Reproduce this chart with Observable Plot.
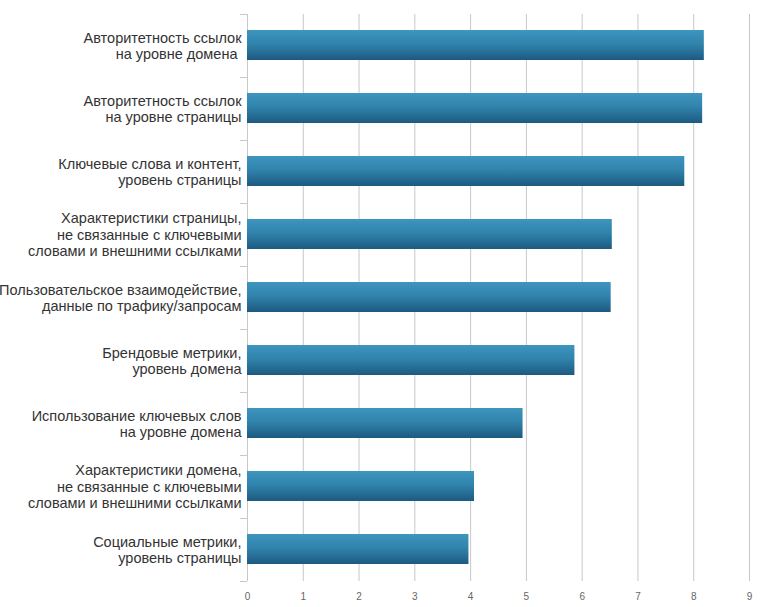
<!DOCTYPE html>
<html>
<head>
<meta charset="utf-8">
<script src="https://cdn.jsdelivr.net/npm/d3@7"></script>
<script src="https://cdn.jsdelivr.net/npm/@observablehq/plot@0.6"></script>
<style>
  html, body { margin: 0; padding: 0; background: #fff; }
</style>
</head>
<body>
<div id="chart"></div>
<script>
const categories = [
  "Авторитетность ссылок\nна уровне домена\u00a0",
  "Авторитетность ссылок\nна уровне страницы",
  "Ключевые слова и контент,\nуровень страницы",
  "Характеристики страницы,\nне связанные с ключевыми\nсловами и внешними ссылками",
  "Пользовательское взаимодействие,\nданные по трафику/запросам",
  "Брендовые метрики,\nуровень домена",
  "Использование ключевых слов\nна уровне домена",
  "Характеристики домена,\nне связанные с ключевыми\nсловами и внешними ссылками",
  "Социальные метрики,\nуровень страницы"
];
const values = [8.19, 8.16, 7.84, 6.54, 6.52, 5.87, 4.94, 4.07, 3.97];
const xTicks = [0, 1, 2, 3, 4, 5, 6, 7, 8, 9];

const data = categories.map((c, i) => ({category: c, value: values[i]}));

const NS = "http://www.w3.org/2000/svg";

function gradientDefs() {
  const defs = document.createElementNS(NS, "defs");
  const lg = document.createElementNS(NS, "linearGradient");
  lg.setAttribute("id", "barGrad");
  lg.setAttribute("x1", "0"); lg.setAttribute("y1", "0");
  lg.setAttribute("x2", "0"); lg.setAttribute("y2", "1");
  [["0%", "#3e95bd"], ["45%", "#3084ad"], ["100%", "#1d5a80"]].forEach(([o, c]) => {
    const s = document.createElementNS(NS, "stop");
    s.setAttribute("offset", o);
    s.setAttribute("stop-color", c);
    lg.appendChild(s);
  });
  defs.appendChild(lg);
  return defs;
}

function yBoundaryTicks(index, scales, values, dims) {
  const g = document.createElementNS(NS, "g");
  const top = dims.marginTop, bottom = dims.height - dims.marginBottom;
  const n = categories.length;
  const x0 = scales.x ? scales.x(0) : dims.marginLeft;
  for (let i = 0; i <= n; i++) {
    const y = Math.round(top + (bottom - top) * i / n) + 0.5;
    const l = document.createElementNS(NS, "line");
    l.setAttribute("x1", x0 - 7); l.setAttribute("x2", x0);
    l.setAttribute("y1", y); l.setAttribute("y2", y);
    l.setAttribute("stroke", "#c8c8c8");
    g.appendChild(l);
  }
  return g;
}

const chart = Plot.plot({
  width: 779,
  height: 607,
  marginLeft: 247,
  marginRight: 30,
  marginTop: 14,
  marginBottom: 26,
  style: {
    fontFamily: "'Liberation Sans', Arial, sans-serif",
    fontSize: "10px",
    color: "#666",
    background: "#fff"
  },
  x: {domain: [0, 9], ticks: xTicks, tickSize: 0, tickPadding: 11, tickFormat: d => String(d), label: null},
  y: {domain: categories, paddingInner: 0.52, paddingOuter: 0.26, axis: null},
  marks: [
    gradientDefs,
    Plot.ruleX(xTicks.slice(1), {stroke: "#c8c8c8", strokeWidth: 1}),
    Plot.ruleX([0], {stroke: "#c8c8c8", strokeWidth: 1}),
    yBoundaryTicks,
    Plot.barX(data, {x: "value", y: "category", fill: "url(#barGrad)"}),
    Plot.text(data, {
      x: 0, y: "category", text: "category",
      dx: -6, textAnchor: "end", fontSize: 14.5, fill: "#333", lineHeight: 1.14
    })
  ]
});
document.getElementById("chart").appendChild(chart);
</script>
</body>
</html>
